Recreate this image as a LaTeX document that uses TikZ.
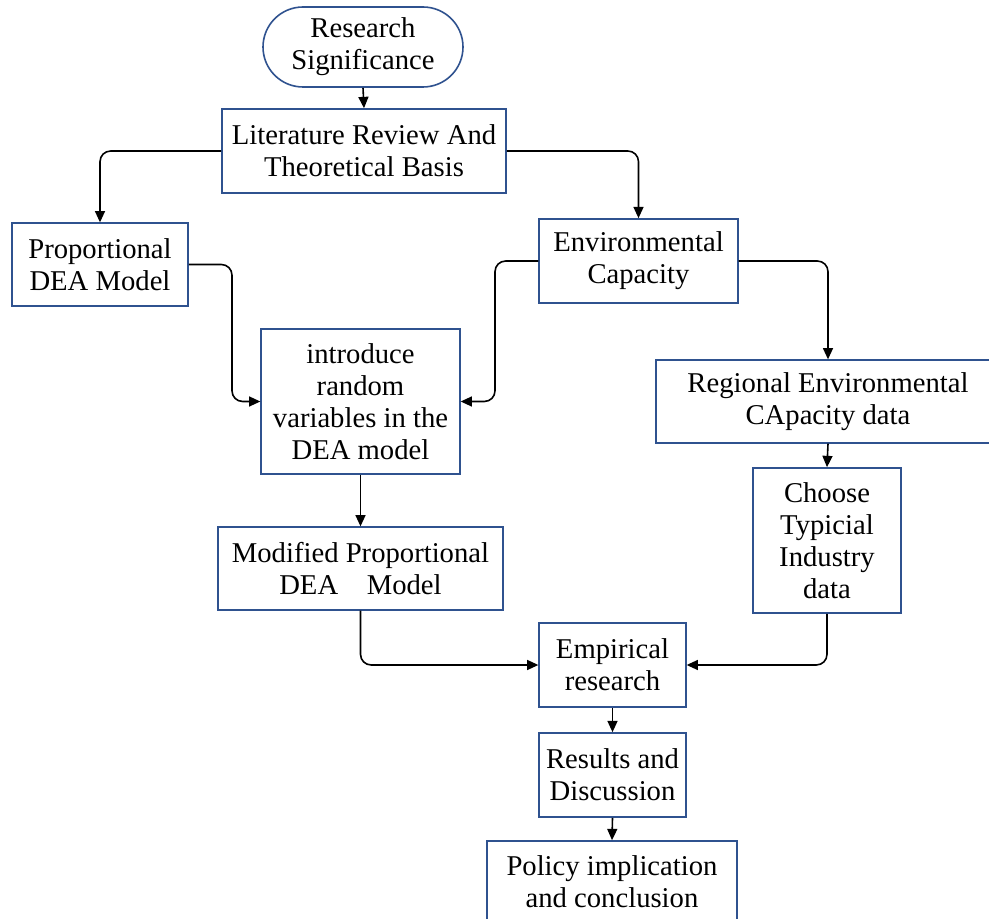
\documentclass[tikz,border=0pt]{standalone}
\usepackage{fontspec}
\setmainfont{Liberation Serif}
\usetikzlibrary{arrows.meta}
\definecolor{boxblue}{RGB}{47,82,143}
\tikzset{
  box/.style={draw=boxblue, line width=1.2pt, fill=white, align=center, inner sep=0pt,
    font=\fontsize{21.5}{24}\selectfont},
  conn/.style={line width=1.2pt, rounded corners=8pt, -{Triangle[length=8.5pt,width=7.5pt]}},
}
\begin{document}
\begin{tikzpicture}[x=0.75pt,y=-0.75pt]
\useasboundingbox (0,0) rectangle (989,919);
\clip (0,0) rectangle (989,919);
\node[box, rounded corners=30pt, minimum width=150pt, minimum height=60pt] (rs) at (363,47) {Research\\Significance};
\node[box, minimum width=213pt, minimum height=63pt] (lit) at (364,151) {Literature Review And\\Theoretical Basis};
\node[box, minimum width=132pt, minimum height=62pt] (prop) at (100,264.5) {Proportional\\DEA Model};
\node[box, minimum width=149pt, minimum height=63pt] (env) at (638.5,261) {Environmental\\Capacity};
\node[box, minimum width=149pt, minimum height=108.75pt] (intro) at (360.5,401.5) {introduce\\random\\variables in the\\DEA model};
\node[box, minimum width=258pt, minimum height=62pt] (reg) at (828,401.5) {Regional Environmental\\CApacity data};
\node[box, minimum width=111pt, minimum height=108.75pt] (choose) at (827,540.5) {Choose\\Typicial\\Industry\\data};
\node[box, minimum width=214pt, minimum height=62pt] (mod) at (360.5,568.5) {Modified Proportional\\DEA\quad Model};
\node[box, minimum width=110pt, minimum height=63pt] (emp) at (612.5,665) {Empirical\\research};
\node[box, minimum width=110pt, minimum height=63pt] (res) at (612.5,775) {Results and\\Discussion};
\node[box, minimum width=187.5pt, minimum height=61.5pt] (pol) at (612,882) {Policy implication\\and conclusion};
\coordinate (c1) at (232,264.5);
\coordinate (c2) at (495,261);
\draw[conn] (rs.south) -- (lit.north);
\draw[conn] (lit.west) -| (prop.north);
\draw[conn] (lit.east) -| (env.north);
\draw[conn] (prop.east) -- (c1) |- (intro.west);
\draw[conn] (env.west) -- (c2) |- (intro.east);
\draw[conn] (env.east) -| (reg.north);
\draw[conn] (intro.south) -- (mod.north);
\draw[conn] (reg.south) -- (choose.north);
\draw[conn] (mod.south) |- (emp.west);
\draw[conn] (choose.south) |- (emp.east);
\draw[conn] (emp.south) -- (res.north);
\draw[conn] (res.south) -- (pol.north);
\end{tikzpicture}
\end{document}
